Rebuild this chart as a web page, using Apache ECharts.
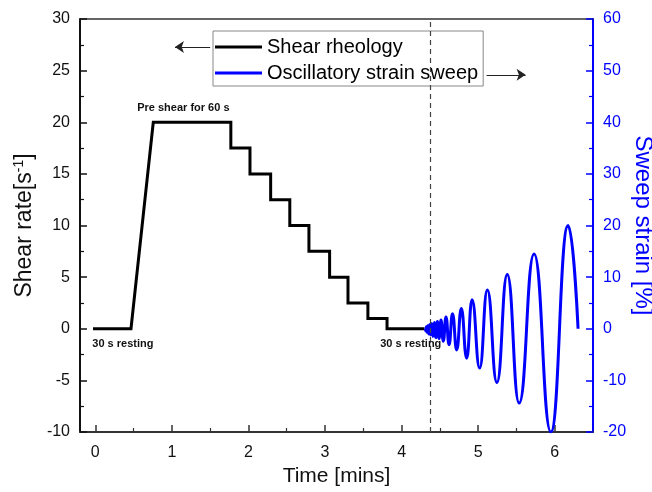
<!DOCTYPE html>
<html>
<head>
<meta charset="utf-8">
<script src="https://cdn.jsdelivr.net/npm/echarts@6/dist/echarts.min.js"></script>
<style>html,body{margin:0;padding:0;background:#fff}#c{width:652px;height:492px}</style>
</head>
<body>
<div id="c"></div>
<script>
// Shear rheology step profile (time in min, shear rate in 1/s)
const shearTime = [-0.03, 0.466, 0.757, 1.77, 1.77, 2.02, 2.02, 2.29, 2.29, 2.54, 2.54, 2.79, 2.79, 3.06, 3.06, 3.30, 3.30, 3.56, 3.56, 3.81, 3.81, 4.30];
const shearRate = [0, 0, 20, 20, 17.5, 17.5, 15, 15, 12.5, 12.5, 10, 10, 7.5, 7.5, 5, 5, 2.5, 2.5, 1, 1, 0, 0];

// Oscillatory strain sweep (time in min, strain in %), read peaks/troughs
const oscTime = [4.31, 4.317, 4.324, 4.333, 4.343, 4.354, 4.366, 4.379, 4.394, 4.41, 4.428, 4.447, 4.468, 4.49,
  4.515, 4.545, 4.58, 4.62, 4.665, 4.72, 4.78, 4.85, 4.92, 5.02, 5.12, 5.245, 5.38, 5.535, 5.73, 5.95, 6.175, 6.305];
const oscStrain = [0, -0.4, 0.4, -0.7, 0.6, -1.0, 0.8, -1.2, 1.0, -1.5, 1.2, -1.7, 1.4, -1.9,
  1.7, -2.4, 2.3, -3.1, 2.9, -4.1, 3.9, -5.7, 5.6, -7.6, 7.5, -10.4, 10.5, -14.4, 14.5, -20, 20, 0];

const xMajorTicks = [0, 1, 2, 3, 4, 5, 6];
const xMinorTicks = [0.5, 1.5, 2.5, 3.5, 4.5, 5.5];
const seriesNames = ['Shear rheology', 'Oscillatory strain sweep'];
const dividerTime = 4.37;

const font = 'Liberation Sans, Arial, sans-serif';
const shearData = shearTime.map((t, i) => [t, shearRate[i]]);
const oscData = oscTime.map((t, i) => [t, oscStrain[i]]);

const chart = echarts.init(document.getElementById('c'), null, {renderer: 'canvas'});
chart.setOption({
  animation: false,
  backgroundColor: '#fff',
  textStyle: {fontFamily: font},
  grid: {left: 80, right: 59, top: 19, bottom: 60, containLabel: false, outerBoundsMode: 'none'},
  legend: {
    left: 213, top: 31, orient: 'vertical',
    data: seriesNames,
    icon: 'rect', itemWidth: 47, itemHeight: 3, itemGap: 6,
    borderColor: '#888', borderWidth: 1, padding: [6, 5, 3, 2],
    textStyle: {fontSize: 20, color: '#000', fontFamily: font}
  },
  xAxis: [
    {
      type: 'value', min: -0.2, max: 6.5, position: 'bottom',
      axisLine: {show: true, onZero: false, lineStyle: {color: '#333', width: 2}},
      axisTick: {show: true, inside: true, length: 7, customValues: xMajorTicks, lineStyle: {color: '#333', width: 1.5}},
      axisLabel: {show: true, customValues: xMajorTicks, fontSize: 16, color: '#111', margin: 13, fontFamily: font},
      splitLine: {show: false},
      name: 'Time [mins]', nameLocation: 'middle', nameGap: 31,
      nameTextStyle: {fontSize: 21, color: '#111', fontFamily: font}
    },
    {
      type: 'value', min: -0.2, max: 6.5, position: 'bottom',
      axisLine: {show: false, onZero: false},
      axisTick: {show: true, inside: true, length: 4, customValues: xMinorTicks, lineStyle: {color: '#333', width: 1.2}},
      axisLabel: {show: false},
      splitLine: {show: false}
    },
    {
      type: 'value', min: -0.2, max: 6.5, position: 'top',
      axisLine: {show: true, onZero: false, lineStyle: {color: '#333', width: 1.5}},
      axisTick: {show: false}, axisLabel: {show: false}, splitLine: {show: false}
    }
  ],
  yAxis: [
    {
      type: 'value', min: -10, max: 30, interval: 5, position: 'left',
      axisLine: {show: true, onZero: false, lineStyle: {color: '#111', width: 2}},
      axisTick: {show: true, inside: true, length: 7, lineStyle: {color: '#111', width: 1.5}},
      minorTick: {show: true, splitNumber: 2, length: 4, lineStyle: {color: '#111', width: 1.2}},
      axisLabel: {fontSize: 16, color: '#111', margin: 10, fontFamily: font},
      splitLine: {show: false},
      name: '{a|Shear rate[s}{b|-1}{a|]}', nameLocation: 'middle', nameGap: 42, nameRotate: 90,
      nameMoveOverlap: false,
      nameTextStyle: {
        color: '#111', fontFamily: font,
        rich: {
          a: {fontSize: 23, color: '#111', fontFamily: font, lineHeight: 26},
          b: {fontSize: 14, color: '#111', fontFamily: font, verticalAlign: 'top', lineHeight: 26}
        }
      }
    },
    {
      type: 'value', min: -20, max: 60, interval: 10, position: 'right',
      axisLine: {show: true, onZero: false, lineStyle: {color: '#0000ff', width: 2}},
      axisTick: {show: true, inside: true, length: 7, lineStyle: {color: '#0000ff', width: 1.5}},
      minorTick: {show: true, splitNumber: 2, length: 4, lineStyle: {color: '#0000ff', width: 1.2}},
      axisLabel: {fontSize: 16, color: '#0000ff', margin: 10, fontFamily: font},
      splitLine: {show: false},
      name: 'Sweep strain [%]', nameLocation: 'middle', nameGap: 38, nameRotate: -90,
      nameMoveOverlap: false,
      nameTextStyle: {fontSize: 24, color: '#0000ff', fontFamily: font}
    }
  ],
  series: [
    {
      name: seriesNames[0], type: 'line', xAxisIndex: 0, yAxisIndex: 0,
      data: shearData, symbol: 'none', showSymbol: false,
      lineStyle: {color: '#000', width: 3, join: 'miter'}, itemStyle: {color: '#000'},
      z: 3,
      markLine: {
        silent: true, symbol: ['none', 'arrow'], symbolSize: [9, 9],
        label: {show: false},
        lineStyle: {color: '#222', width: 1, type: 'solid'},
        data: [
          [{coord: [1.5, 27.3]}, {coord: [1.04, 27.3]}],
          [{coord: [5.11, 24.6]}, {coord: [5.62, 24.6]}]
        ]
      },
      markPoint: {
        silent: true, symbol: 'circle', symbolSize: 1,
        itemStyle: {color: 'rgba(0,0,0,0)'},
        label: {show: true, position: 'inside', color: '#111', fontWeight: 'bold', fontSize: 11, fontFamily: font, formatter: '{b}'},
        data: [
          {name: 'Pre shear for 60 s', coord: [1.15, 21.4]},
          {name: '30 s resting', coord: [0.36, -1.45]},
          {name: '30 s resting', coord: [4.12, -1.45]}
        ]
      }
    },
    {
      name: seriesNames[1], type: 'line', xAxisIndex: 0, yAxisIndex: 1,
      data: oscData, symbol: 'none', showSymbol: false,
      smooth: 0.5, smoothMonotone: 'x',
      lineStyle: {color: '#0000ff', width: 3}, itemStyle: {color: '#0000ff'},
      z: 4,
      markLine: {
        silent: true, symbol: ['none', 'none'],
        label: {show: false},
        lineStyle: {color: '#444', width: 1.2, type: [5, 4]},
        data: [{xAxis: dividerTime}]
      }
    }
  ]
});
</script>
</body>
</html>
